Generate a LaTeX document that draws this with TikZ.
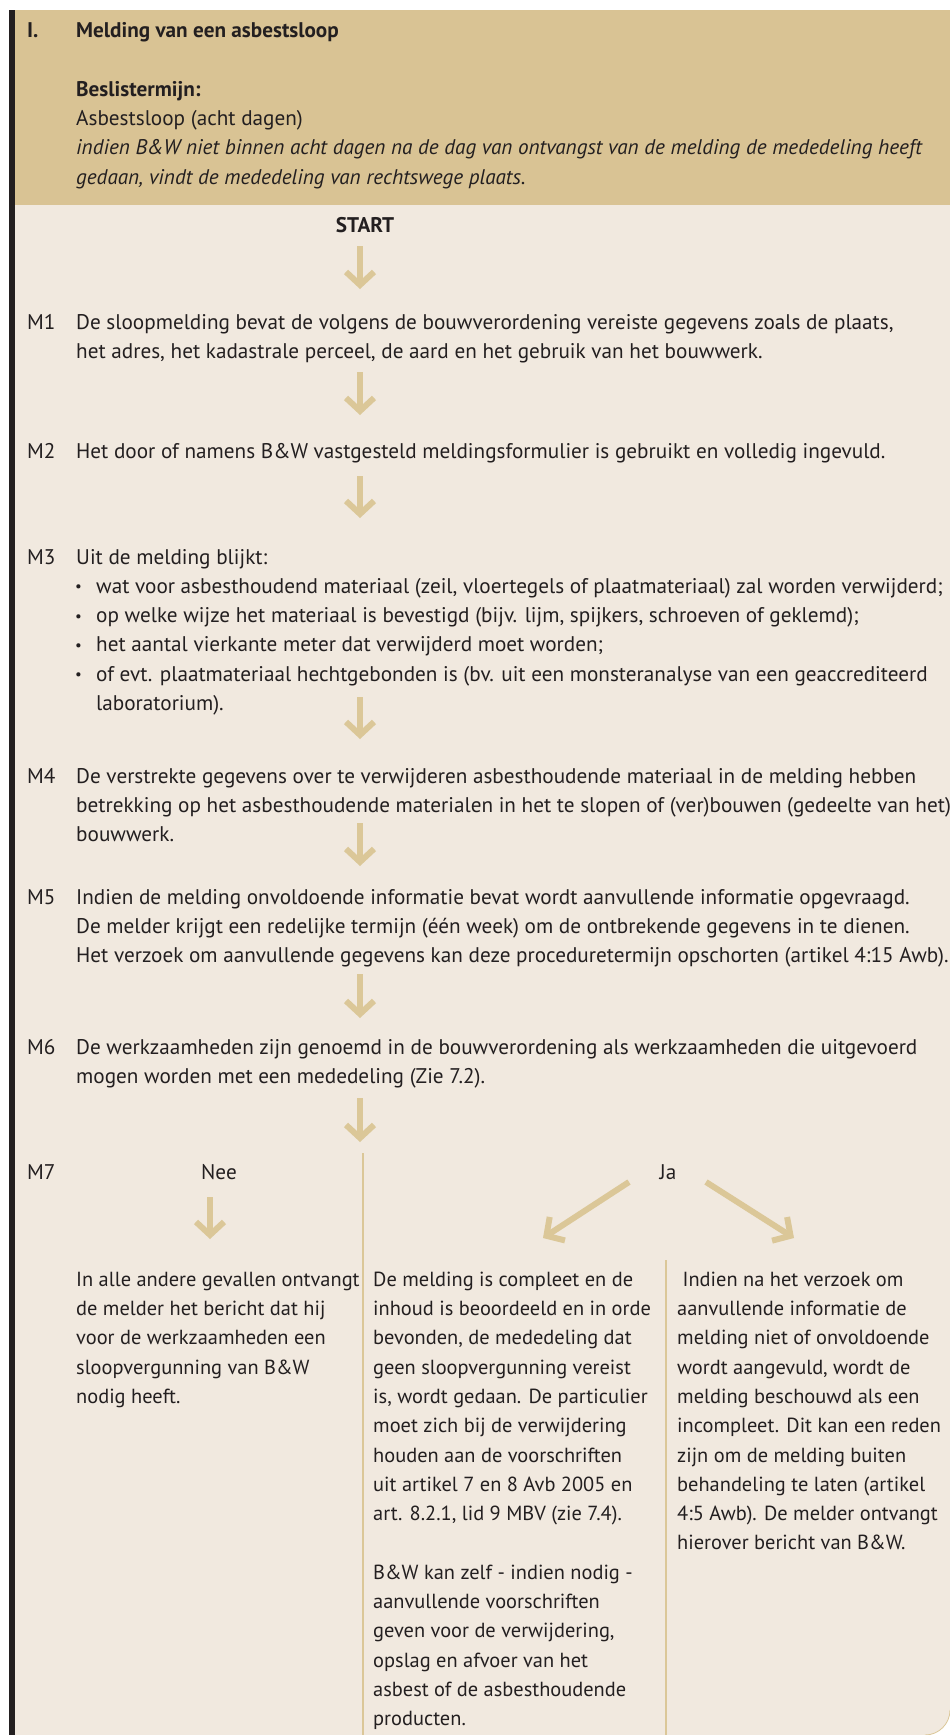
\documentclass[tikz,border=0pt]{standalone}
\usepackage{fontspec}
\setmainfont{PT Sans}
\usetikzlibrary{positioning,arrows.meta}
\definecolor{colhead}{RGB}{217,195,148}
\definecolor{colbg}{RGB}{241,233,223}
\definecolor{colarr}{RGB}{219,199,152}
\definecolor{colink}{RGB}{35,31,32}
\newcommand{\txtfont}{\fontsize{21.2}{29.3}\selectfont}
\newcommand{\colfont}{\fontsize{20.4}{29.3}\selectfont}
\newcommand{\dotitem}{\raisebox{1.5pt}{\fontsize{15}{15}\selectfont\textbullet}}

\tikzset{
  mtext/.style={anchor=base west, inner sep=0pt, align=left, font=\txtfont, text=colink},
  mpara/.style={mtext, anchor=north west},
  mcol/.style={mpara, font=\colfont},
  mlabel/.style={anchor=base west, inner sep=0pt, font=\txtfont, text=colink},
  flow/.style={colarr, line width=6pt, -{Straight Barb[length=13pt,width=28pt,line cap=butt,line join=miter]}},
  colrule/.style={colarr, line width=1.5pt}
}

\begin{document}
\begin{tikzpicture}[x=1pt,y=-1pt]
  \useasboundingbox (0,0) rectangle (950,1735);
  % panels
  \fill[colbg] (15,205) -- (950,205) -- (950,1710) arc[start angle=0,end angle=90,radius=25] -- (15,1735) -- cycle;
  \draw[colarr, line width=0.8pt] (950,1710) arc[start angle=0,end angle=90,radius=25];
  \fill[colhead] (15,10) rectangle (950,205);
  \fill[colink] (8.5,10) rectangle (15,1735);

  % header (paragraph tops are baseline - 20.5)
  \node[mlabel] (hnum) at (27,37) {\bfseries I.};
  \node[mtext] (htitle) at (76,37) {\bfseries Melding van een asbestsloop};
  \node[mpara] (hterm) at (76,75.5) {\strut\textbf{Beslistermijn:}\\
    Asbestsloop (acht dagen)\\
    \textit{indien B\&W niet binnen acht dagen na de dag van ontvangst van de melding de mededeling heeft}\\
    \textit{gedaan, vindt de mededeling van rechtswege plaats.}};

  \node[anchor=base, inner sep=0pt, font=\txtfont\bfseries, text=colink] (start) at (365,232) {START};

  % steps
  \node[mlabel] (l1) at (27,329) {M1};
  \node[mpara] (m1) at (76,308.5) {\strut De sloopmelding bevat de volgens de bouwverordening vereiste gegevens zoals de plaats,\\
    het adres, het kadastrale perceel, de aard en het gebruik van het bouwwerk.};
  \node[mlabel] (l2) at (27,458) {M2};
  \node[mtext] (m2) at (76,458) {Het door of namens B\&W vastgesteld meldingsformulier is gebruikt en volledig ingevuld.};
  \node[mlabel] (l3) at (27,564) {M3};
  \node[mtext] (m3) at (76,564) {Uit de melding blijkt:};
  \node[mpara] (m3b) at (75,572.5) {\strut\dotitem\\ \dotitem\\ \dotitem\\ \dotitem};
  \node[mpara] (m3c) at (96,572.5) {\strut wat voor asbesthoudend materiaal (zeil, vloertegels of plaatmateriaal) zal worden verwijderd;\\
    op welke wijze het materiaal is bevestigd (bijv. lijm, spijkers, schroeven of geklemd);\\
    het aantal vierkante meter dat verwijderd moet worden;\\
    of evt. plaatmateriaal hechtgebonden is (bv. uit een monsteranalyse van een geaccrediteerd\\
    laboratorium).};
  \node[mlabel] (l4) at (27,783) {M4};
  \node[mpara] (m4) at (76,762.5) {\strut De verstrekte gegevens over te verwijderen asbesthoudende materiaal in de melding hebben\\
    betrekking op het asbesthoudende materialen in het te slopen of (ver)bouwen (gedeelte van het)\\
    bouwwerk.};
  \node[mlabel] (l5) at (27,904) {M5};
  \node[mpara] (m5) at (76,883.5) {\strut Indien de melding onvoldoende informatie bevat wordt aanvullende informatie opgevraagd.\\
    De melder krijgt een redelijke termijn (één week) om de ontbrekende gegevens in te dienen.\\
    Het verzoek om aanvullende gegevens kan deze proceduretermijn opschorten (artikel 4:15 Awb).};
  \node[mlabel] (l6) at (27,1054) {M6};
  \node[mpara] (m6) at (76,1033.5) {\strut De werkzaamheden zijn genoemd in de bouwverordening als werkzaamheden die uitgevoerd\\
    mogen worden met een mededeling (Zie 7.2).};
  \node[mlabel] (l7) at (27,1179) {M7};
  \node[mtext, anchor=base] (nee) at (219,1179) {Nee};
  \node[mtext, anchor=base] (ja) at (668,1179) {Ja};

  % outcomes
  \node[mcol] (cnee) at (76,1265.5) {\strut In alle andere gevallen ontvangt\\
    de melder het bericht dat hij\\
    voor de werkzaamheden een\\
    sloopvergunning van B\&W\\
    nodig heeft.};
  \node[mcol] (cja) at (373,1265.5) {\strut De melding is compleet en de\\
    inhoud is beoordeeld en in orde\\
    bevonden, de mededeling dat\\
    geen sloopvergunning vereist\\
    is, wordt gedaan. De particulier\\
    moet zich bij de verwijdering\\
    houden aan de voorschriften\\
    uit artikel 7 en 8 Avb 2005 en\\
    art. 8.2.1, lid 9 MBV (zie 7.4).\\[29.3pt]
    B\&W kan zelf - indien nodig -\\
    aanvullende voorschriften\\
    geven voor de verwijdering,\\
    opslag en afvoer van het\\
    asbest of de asbesthoudende\\
    producten.};
  \node[mcol] (cinc) at (677,1265.5) {\strut\ Indien na het verzoek om\\
    aanvullende informatie de\\
    melding niet of onvoldoende\\
    wordt aangevuld, wordt de\\
    melding beschouwd als een\\
    incompleet. Dit kan een reden\\
    zijn om de melding buiten\\
    behandeling te laten (artikel\\
    4:5 Awb). De melder ontvangt\\
    hierover bericht van B\&W.};

  % arrows
  \foreach \ya/\yb [count=\i] in {246/289, 372/415, 476/518, 697/739, 823/866, 974/1018, 1098/1142} {
    \coordinate (a\i s) at (360,\ya);
    \coordinate (a\i e) at (360,\yb);
    \draw[flow] (a\i s) -- (a\i e);
  }
  \coordinate (neea) at (210,1197);
  \coordinate (neeb) at (210,1239);
  \draw[flow] (neea) -- (neeb);
  \coordinate (jala) at (629,1182);
  \coordinate (jalb) at (543,1238);
  \coordinate (jara) at (706,1182);
  \coordinate (jarb) at (794,1238);
  \draw[flow] (jala) -- (jalb);
  \draw[flow] (jara) -- (jarb);

  % column rules
  \coordinate (r1a) at (363,1153);
  \coordinate (r1b) at (363,1735);
  \coordinate (r2a) at (666,1260);
  \coordinate (r2b) at (666,1735);
  \draw[colrule] (r1a) -- (r1b);
  \draw[colrule] (r2a) -- (r2b);
\end{tikzpicture}
\end{document}
